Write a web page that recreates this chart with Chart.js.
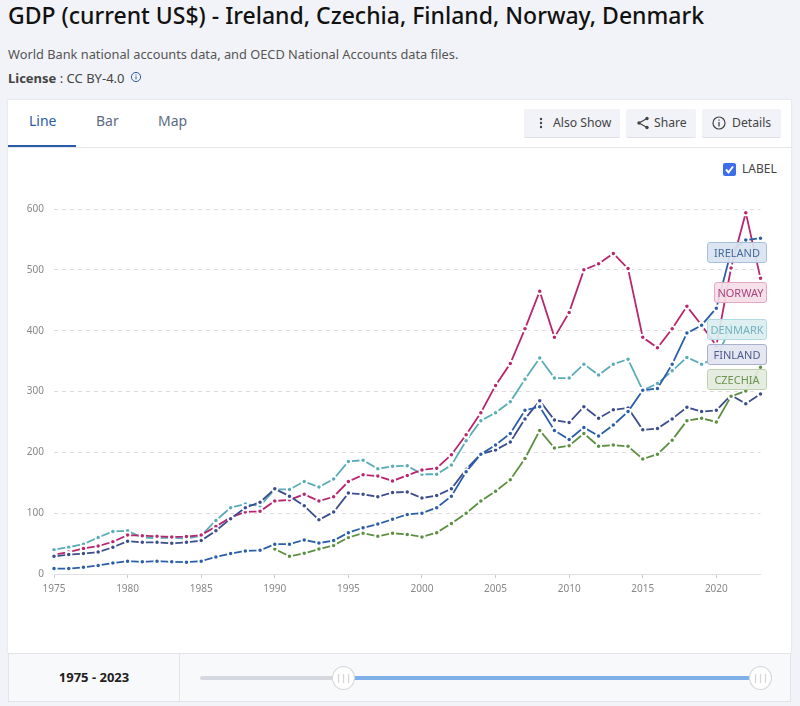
<!DOCTYPE html>
<html>
<head>
<meta charset="utf-8">
<script src="https://cdn.jsdelivr.net/npm/chart.js@4"></script>
<style>
  html, body { margin: 0; padding: 0; }
  body { width: 800px; height: 706px; background: #f1f3f8; font-family: "Noto Sans", "Open Sans", sans-serif; position: relative; overflow: hidden; color: #444; }
  .abs { position: absolute; white-space: nowrap; }
  h1 { position: absolute; left: 8px; top: 0; margin: 0; font-size: 23px; line-height: 30px; font-weight: 500; color: #111; white-space: nowrap; }
  #card { position: absolute; left: 8px; top: 100px; width: 783px; height: 553px; background: #fff; box-shadow: 0 0 2px #d5d8e0; }
  #head { position: absolute; left: 8px; top: 147px; width: 783px; height: 1px; background: #e4e6ec; }
  #underline { position: absolute; left: 8px; top: 145px; width: 68px; height: 2px; background: #2a5ba8; }
  .tab { top: 111px; font-size: 14px; line-height: 20px; color: #5d6b82; }
  .btn { position: absolute; top: 109px; height: 29px; background: #f1f3f8; border-bottom: 1px solid #dfe1e8; border-radius: 2px; font-size: 12.2px; line-height: 28px; color: #444; box-sizing: border-box; }
  .btn svg { position: absolute; top: 7px; left: 10px; }
  .btn span { position: absolute; top: 0; }
  #check { position: absolute; left: 723px; top: 163px; width: 13px; height: 13px; background: #3b6ee8; border-radius: 2px; }
  #check svg { display: block; }
  #wrap { position: absolute; left: 8px; top: 151px; width: 783px; height: 450px; }
  .lbl { position: absolute; box-sizing: border-box; height: 21px; border-radius: 3px; border: 1px solid; font-size: 11px; line-height: 19px; text-align: center; }
  #bottom { position: absolute; left: 8px; top: 653px; width: 783px; height: 49px; background: #f8f9fb; border: 1px solid #e2e4ea; box-sizing: border-box; }
  #divider { position: absolute; left: 179px; top: 653px; width: 1px; height: 49px; background: #e2e4ea; }
  #range { position: absolute; left: 8px; width: 172px; top: 667px; text-align: center; font-size: 13px; line-height: 20px; font-weight: 700; color: #222; }
  .track { position: absolute; top: 676px; height: 4px; border-radius: 2px; }
  .knob { position: absolute; top: 666px; width: 23px; height: 24px; box-sizing: border-box; border-radius: 50%; background: #fff; border: 1px solid #d3d6de; color: #bbb; font-size: 9px; line-height: 21px; text-align: center; }
</style>
</head>
<body>
<h1>GDP (current US$) - Ireland, Czechia, Finland, Norway, Denmark</h1>
<div class="abs" style="left:8px;top:44px;font-size:12.8px;line-height:20px;color:#555">World Bank national accounts data, and OECD National Accounts data files.</div>
<div class="abs" style="left:8px;top:68px;font-size:13px;line-height:20px;color:#444"><b>License</b> : CC BY-4.0</div>
<svg class="abs" style="left:130px;top:71px" width="12" height="12" viewBox="0 0 12 12"><circle cx="6" cy="6" r="4.6" fill="none" stroke="#2a5ba8"/><path d="M6 5.4v3M6 3.4v1" stroke="#2a5ba8"/></svg>

<div id="card"></div>
<div id="head"></div>
<div id="underline"></div>
<div class="abs tab" style="left:29px;color:#2a5ba8">Line</div>
<div class="abs tab" style="left:96px">Bar</div>
<div class="abs tab" style="left:158px">Map</div>

<div class="btn" style="left:524px;width:96px"><svg width="14" height="14" viewBox="0 0 14 14"><circle cx="7" cy="3" r="1.2" fill="#444"/><circle cx="7" cy="7" r="1.2" fill="#444"/><circle cx="7" cy="11" r="1.2" fill="#444"/></svg><span style="left:29px">Also Show</span></div>
<div class="btn" style="left:626px;width:70px"><svg width="14" height="14" viewBox="0 0 14 14"><path d="M11 2.5 3 7l8 4.500" fill="none" stroke="#444" stroke-width="1.200"/><circle cx="11" cy="2.500" r="1.700" fill="#444"/><circle cx="3" cy="7" r="1.700" fill="#444"/><circle cx="11" cy="11.500" r="1.700" fill="#444"/></svg><span style="left:28px">Share</span></div>
<div class="btn" style="left:702px;width:79px"><svg width="14" height="14" viewBox="0 0 14 14"><circle cx="7" cy="7" r="6" fill="none" stroke="#444" stroke-width="1.200"/><path d="M7 6v4.500M7 3.500v1.300" stroke="#444" stroke-width="1.300"/></svg><span style="left:30px">Details</span></div>

<div id="check"><svg width="13" height="13" viewBox="0 0 13 13"><path d="M3 6.500 5.500 9.500 10 3.500" fill="none" stroke="#fff" stroke-width="2"/></svg></div>
<div class="abs" style="left:742px;top:159px;font-size:12px;line-height:20px;color:#444">LABEL</div>

<div id="wrap"><canvas id="chart"></canvas></div>

<div class="lbl" style="left:707px;top:242px;width:60px;background:rgba(217,228,241,.92);border-color:#a9c0dc;color:#456a9e">IRELAND</div>
<div class="lbl" style="left:714px;top:282px;width:53px;background:rgba(245,222,233,.92);border-color:#e2a8c5;color:#a8467c">NORWAY</div>
<div class="lbl" style="left:707px;top:319px;width:60px;background:rgba(219,238,241,.92);border-color:#b3dae0;color:#74b3bf">DENMARK</div>
<div class="lbl" style="left:707px;top:344px;width:60px;background:rgba(226,229,241,.92);border-color:#aab1cf;color:#4f5c8c">FINLAND</div>
<div class="lbl" style="left:707px;top:369px;width:60px;background:rgba(226,236,220,.92);border-color:#bcd2ae;color:#6f9354">CZECHIA</div>

<div id="bottom"></div>
<div id="divider"></div>
<div id="range">1975 - 2023</div>
<div class="track" style="left:200px;width:140px;background:#d6d8e0"></div>
<div class="track" style="left:350px;width:400px;background:#7fb0e8"></div>
<div class="knob" style="left:332px">|||</div>
<div class="knob" style="left:749px">|||</div>

<script>
const years = [1975,1976,1977,1978,1979,1980,1981,1982,1983,1984,1985,1986,1987,1988,1989,1990,1991,1992,1993,1994,1995,1996,1997,1998,1999,2000,2001,2002,2003,2004,2005,2006,2007,2008,2009,2010,2011,2012,2013,2014,2015,2016,2017,2018,2019,2020,2021,2022,2023];
const yTicks = [0,100,200,300,400,500,600];

const ireland = [9,9,11,14,18,21,20,21,20,19.5,21,28,33.5,38,39,49,49,56,51,55,68,76,82,90,98,100,109,128,168,197,212,231,269,275,236,221,241,227,245,267,302,305,345,396,409,437,530,549,552];
const czechia = [null,null,null,null,null,null,null,null,null,null,null,null,null,null,null,41,29,34,41,47,60,67,62,67,65,61,68,83,100,120,136,155,190,236,207,211,231,210,212,210,189,197,220,252,256,250,292,301,340];
const finland = [29,32,33.5,36,44,54,52,52,50.5,52,55,71,91,109,118,140,128,112,89,102,133,131,127,134,135,125,129,140,172,197,204,217,255,285,253,249,275,256,270,273,237,239,255,274,267,269,294,280,296];
const norway = [32,36,42,46,53,64,63,62,61,61.5,64,78,93,102,103,120,122,131,120,127,152,163,161,153,162,171,174,196,229,265,310,346,403,465,389,430,500,510,527,502,389,372,403,440,409,375,503,594,486];
const denmark = [40,44,49,60,70,71,60,59,60,58,63,88,109,115,112,139,139,152,143,156,185,187,173,177,178,164,164,179,219,252,265,283,320,355,322,322,345,327,345,353,302,313,334,356,345,355,408,401,407];

function line(label, data, color) {
  return {
    label, data,
    borderColor: color,
    backgroundColor: color,
    borderWidth: 1.8,
    tension: 0,
    pointRadius: 2.7,
    pointBorderColor: '#fff',
    pointBorderWidth: 1.9,
    pointBackgroundColor: color
  };
}

new Chart(document.getElementById('chart'), {
  type: 'line',
  data: {
    labels: years,
    datasets: [
      line('Ireland', ireland, '#2a5ea8'),
      line('Czechia', czechia, '#5d8f42'),
      line('Finland', finland, '#3b4d8c'),
      line('Norway', norway, '#b8276e'),
      line('Denmark', denmark, '#5aacb8')
    ]
  },
  options: {
    responsive: true,
    maintainAspectRatio: false,
    animation: false,
    layout: { padding: { top: 58, right: 30.5, left: 0, bottom: 0 } },
    plugins: { legend: { display: false }, tooltip: { enabled: false } },
    scales: {
      x: {
        type: 'category',
        offset: false,
        afterFit: s => { s.height = 27; },
        border: { color: '#e0e0e4', width: 1 },
        grid: { drawOnChartArea: false, drawTicks: true, tickLength: 4, tickColor: '#cccccc' },
        ticks: {
          autoSkip: false, maxRotation: 0, padding: 5,
          color: '#888', font: { size: 10, family: '"Noto Sans"' },
          callback(v) { const y = years[v]; return y % 5 === 0 ? String(y) : null; }
        }
      },
      y: {
        min: 0, max: 600,
        afterFit: s => { s.width = 46; },
        afterBuildTicks: s => { s.ticks = yTicks.map(value => ({ value })); },
        border: { display: false, dash: [4, 4] },
        grid: { drawTicks: false, color: c => c.tick.value === 0 ? 'transparent' : '#dcdcdc', lineWidth: 1 },
        ticks: { padding: 10, color: '#888', font: { size: 10, family: '"Noto Sans"' } }
      }
    }
  }
});
</script>
</body>
</html>
